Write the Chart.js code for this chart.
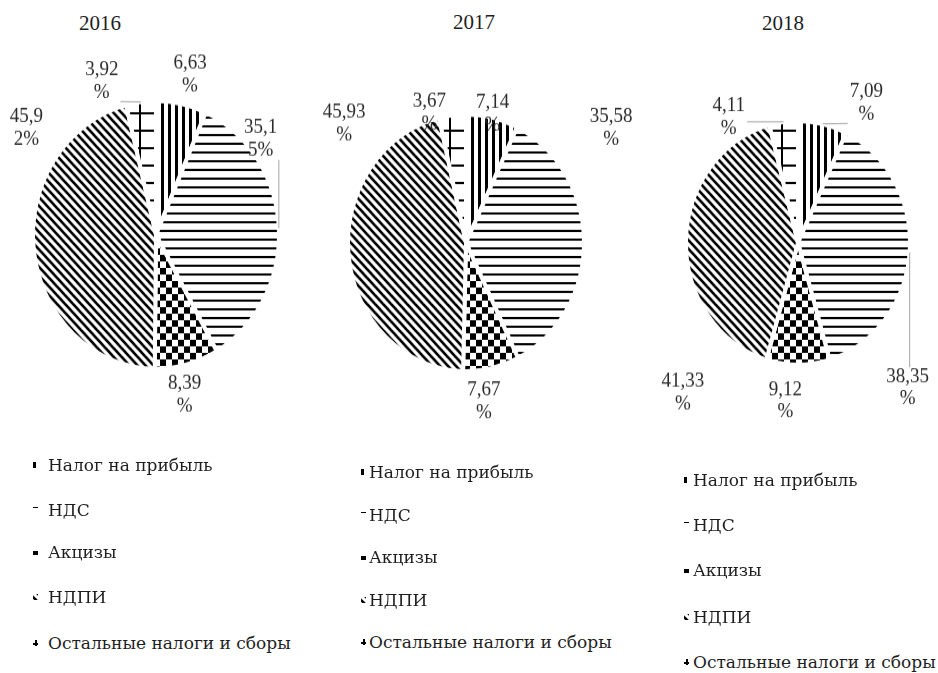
<!DOCTYPE html>
<html>
<head>
<meta charset="utf-8">
<script src="https://cdn.jsdelivr.net/npm/chart.js@4.4.0/dist/chart.umd.min.js"></script>
<style>
body { margin: 0; background: #fff; width: 938px; height: 673px; overflow: hidden; position: relative;
       font-family: "Liberation Serif", "DejaVu Serif", serif; color: #1e1e1e; }
.year { position: absolute; font-size: 21px; line-height: 21px; transform: translate(-50%, -50%); }
canvas.pie { position: absolute; top: 0; }
.item { position: absolute; white-space: nowrap; font-family: "DejaVu Serif", serif; font-size: 17px; line-height: 18px; }
.item canvas { position: absolute; top: 6px; }
</style>
</head>
<body>
<script>
var categories = ["Налог на прибыль", "НДС", "Акцизы", "НДПИ", "Остальные налоги и сборы"];
var years = ["2016", "2017", "2018"];
var values2016 = [6.63, 35.15, 8.39, 45.92, 3.92];
var values2017 = [7.14, 35.58, 7.67, 45.93, 3.67];
var values2018 = [7.09, 38.35, 9.12, 41.33, 4.11];
var seriesValues = [values2016, values2017, values2018];

// hatch fills, one per category
var patternKinds = ["vertical", "horizontal", "checker", "diagonal", "grid"];

// placement of each pie (css px), label spots as [angle from top in deg, distance in radii]
var layouts = [
    { cx: 156, cy: 235, radius: 123, boxWidth: 2.1, titleX: 100, titleY: 23,
      labels: [[13, 1.23], [50, 1.11], [169, 1.22], [307, 1.32], [339, 1.23]],
      leaders: [false, true, false, false, true],
      legendMarkX: 33, legendTextX: 48, legendY: [465, 510, 552, 597, 643] },
    { cx: 466, cy: 243, radius: 118, boxWidth: 2.4, titleX: 474, titleY: 22,
      labels: [[12.6, 1.03], [54, 1.52], [173, 1.24], [312, 1.39], [343, 1.06]],
      leaders: [false, false, false, false, false],
      legendMarkX: 361, legendTextX: 369, legendY: [472, 515, 557, 600, 642] },
    { cx: 798, cy: 243, radius: 112, boxWidth: 2.4, titleX: 783, titleY: 23,
      labels: [[28, 1.30], [140.5, 1.54], [185, 1.30], [220, 1.60], [329, 1.20]],
      leaders: [true, true, false, false, true],
      legendMarkX: 684, legendTextX: 693, legendY: [480, 525, 570, 617, 662] }
];

var stretchY = 1.09;
var canvasW = 340, canvasH = 460;

function makePattern(kind) {
    var c = document.createElement("canvas");
    var g = c.getContext("2d");
    var n = { vertical: 7, horizontal: 8, checker: 12, diagonal: 8, grid: 16 }[kind];
    c.width = n; c.height = n;
    g.fillStyle = "#fff";
    g.fillRect(0, 0, n, n);
    g.fillStyle = "#000";
    g.strokeStyle = "#000";
    if (kind == "vertical") {
        g.fillRect(0, 0, 3, n);
    } else if (kind == "horizontal") {
        g.fillRect(0, 3, n, 2);
    } else if (kind == "checker") {
        g.fillRect(0, 0, 6, 6);
        g.fillRect(6, 6, 6, 6);
    } else if (kind == "diagonal") {
        g.lineWidth = 2.6;
        [-n, 0, n].forEach(function(o) {
            g.beginPath();
            g.moveTo(o - 1, -1);
            g.lineTo(o + n + 1, n + 1);
            g.stroke();
        });
    } else {
        g.fillRect(0, 7, n, 2);
        g.fillRect(9, 0, 2, n);
    }
    return g.createPattern(c, "repeat");
}

var patterns = patternKinds.map(makePattern);

function formatValue(v) {
    return v.toFixed(2).replace(".", ",") + "%";
}

function wrapLabel(ctx, text, maxW) {
    var lines = [], cur = "";
    for (var i = 0; i < text.length; i++) {
        var next = cur + text[i];
        if (cur && ctx.measureText(next).width > maxW) {
            lines.push(cur);
            cur = text[i];
        } else {
            cur = next;
        }
    }
    lines.push(cur);
    return lines;
}

var sliceLabels = {
    id: "sliceLabels",
    afterDatasetsDraw: function(chart, args, opts) {
        var ctx = chart.ctx;
        var meta = chart.getDatasetMeta(0);
        var values = chart.data.datasets[0].data;
        var fs = opts.fontSize, lh = fs * 1.1;
        ctx.save();
        ctx.font = fs + "px 'Liberation Serif', 'Times New Roman', serif";
        ctx.textAlign = "center";
        ctx.textBaseline = "middle";
        meta.data.forEach(function(arc, i) {
            var p = arc.getProps(["x", "y", "startAngle", "endAngle", "outerRadius"], true);
            var place = opts.placements[i];
            var a = (place[0] - 90) * Math.PI / 180;
            var lx = p.x + Math.cos(a) * place[1] * p.outerRadius;
            var ly = p.y + Math.sin(a) * place[1] * p.outerRadius;
            var lines = wrapLabel(ctx, formatValue(values[i]), opts.boxWidth * fs);
            var w = Math.max.apply(null, lines.map(function(t) { return ctx.measureText(t).width; }));
            var h = lines.length * lh;
            if (opts.leaders[i]) {
                var mid = (p.startAngle + p.endAngle) / 2;
                var ex = p.x + Math.cos(mid) * p.outerRadius;
                var ey = p.y + Math.sin(mid) * p.outerRadius;
                var bx = Math.min(Math.max(ex, lx - w / 2 - 2), lx + w / 2 + 2);
                var by = Math.min(Math.max(ey, ly - h / 2 + 2), ly + h / 2 - 2);
                ctx.strokeStyle = "#a6a6a6";
                ctx.lineWidth = 1;
                ctx.beginPath();
                ctx.moveTo(bx, by);
                ctx.lineTo(ex, ey);
                ctx.stroke();
            }
            ctx.fillStyle = "#2a2a2a";
            lines.forEach(function(t, k) {
                ctx.fillText(t, lx, ly - h / 2 + lh * (k + 0.5));
            });
        });
        ctx.restore();
    }
};

years.forEach(function(year, idx) {
    var L = layouts[idx];
    var title = document.createElement("div");
    title.className = "year";
    title.textContent = year;
    title.style.left = L.titleX + "px";
    title.style.top = L.titleY + "px";
    document.body.appendChild(title);

    var canvas = document.createElement("canvas");
    canvas.className = "pie";
    canvas.width = canvasW;
    canvas.height = canvasH;
    canvas.style.left = (L.cx - canvasW / 2) + "px";
    canvas.style.width = canvasW + "px";
    canvas.style.height = (canvasH * stretchY) + "px";
    document.body.appendChild(canvas);

    var cyCanvas = L.cy / stretchY;
    var chart = new Chart(canvas.getContext("2d"), {
        type: "pie",
        data: {
            labels: categories,
            datasets: [{
                data: seriesValues[idx],
                backgroundColor: patterns,
                borderColor: "#fff",
                borderWidth: 4,
                radius: L.radius
            }]
        },
        options: {
            responsive: false,
            animation: false,
            events: [],
            layout: { padding: { top: 0, bottom: canvasH - 2 * cyCanvas, left: 0, right: 0 } },
            plugins: {
                legend: { display: false },
                tooltip: { enabled: false },
                sliceLabels: { fontSize: 19, boxWidth: L.boxWidth, placements: L.labels, leaders: L.leaders }
            }
        },
        plugins: [sliceLabels]
    });

    // vertical legend below each pie
    chart.data.labels.forEach(function(name, i) {
        var item = document.createElement("div");
        item.className = "item";
        item.style.left = L.legendMarkX + "px";
        item.style.top = (L.legendY[i] - 9) + "px";
        var mark = document.createElement("canvas");
        mark.width = 5; mark.height = 6;
        mark.style.left = "0px";
        var mg = mark.getContext("2d");
        mg.translate(-7, -4);
        mg.fillStyle = chart.data.datasets[0].backgroundColor[i];
        mg.fillRect(7, 4, 5, 6);
        item.appendChild(mark);
        var text = document.createElement("span");
        text.textContent = name;
        text.style.marginLeft = (L.legendTextX - L.legendMarkX) + "px";
        item.appendChild(text);
        document.body.appendChild(item);
    });
});
</script>
</body>
</html>
